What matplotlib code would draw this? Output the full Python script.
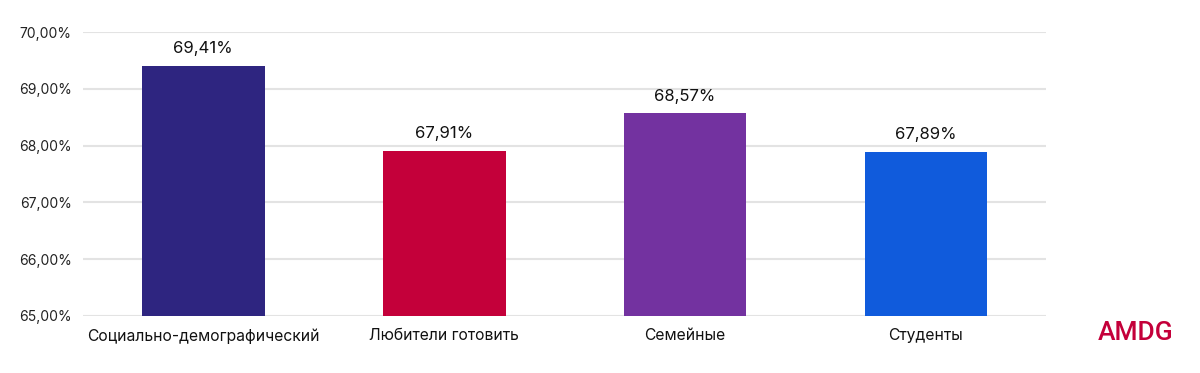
import matplotlib
matplotlib.use("Agg")
import matplotlib.pyplot as plt
from matplotlib.ticker import FuncFormatter

categories = ["Социально-демографический", "Любители готовить", "Семейные", "Студенты"]
values = [69.41, 67.91, 68.57, 67.89]
colors = ["#2E2580", "#C4003A", "#7332A0", "#105BDC"]

plt.rcParams["font.family"] = ["Inter", "DejaVu Sans"]

fig = plt.figure(figsize=(12, 3.73), dpi=100)
ax = fig.add_axes([0.069, 0.153, 0.803, 0.761])

x = range(len(categories))
bars = ax.bar(x, values, width=0.51, color=colors, zorder=3)

for b, v in zip(bars, values):
    ax.text(b.get_x() + b.get_width() / 2, v + 0.17, ("%.2f%%" % v).replace(".", ","),
            ha="center", va="bottom", fontsize=12, color="#111111")

ax.set_ylim(65, 70)
ax.set_xlim(-0.5, 3.5)
ax.set_yticks([65, 66, 67, 68, 69, 70])
ax.yaxis.set_major_formatter(FuncFormatter(lambda v, p: ("%.2f%%" % v).replace(".", ",")))
ax.set_xticks(list(x))
ax.set_xticklabels(categories, fontsize=11.3, color="#111111")
ax.tick_params(axis="y", labelsize=10, colors="#222222", length=0, pad=8)
ax.tick_params(axis="x", length=0, pad=9)
ax.grid(axis="y", color="#E3E3E3", linewidth=1.5, zorder=0)
for s in ax.spines.values():
    s.set_visible(False)

fig.text(0.9775, 0.107, "AMDG", ha="right", va="center", fontsize=19, fontweight="medium",
         color="#C4003A", family=["Roboto", "DejaVu Sans"])

fig.savefig("out.png", dpi=100)
plt.close(fig)
